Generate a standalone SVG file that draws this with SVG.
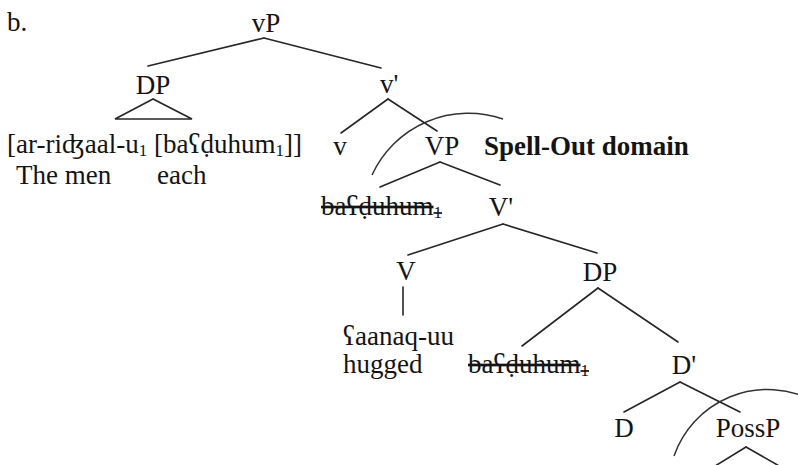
<svg xmlns="http://www.w3.org/2000/svg" width="798" height="465" viewBox="0 0 798 465">
  <style>
    text { font-family: "Liberation Serif", "DejaVu Serif", serif; font-size: 27px; fill: #141414; }
    .mid { text-anchor: middle; }
    .bold { font-weight: bold; }
    .struck { text-decoration: line-through; }
    .sub { font-size: 17px; }
    .edge { stroke: #262626; stroke-width: 1.6; fill: none; stroke-linecap: round; }
    .domain { stroke: #333; stroke-width: 1.5; fill: none; }
  </style>
  <rect width="798" height="465" fill="#ffffff"/>

  <!-- example label -->
  <text id="label-b" x="7" y="31">b.</text>

  <!-- tree branches -->
  <g id="connectors">
    <!-- vP -->
    <line class="edge" x1="264" y1="38" x2="148" y2="66"/>
    <line class="edge" x1="264" y1="38" x2="381" y2="68"/>
    <!-- DP triangle -->
    <polygon class="edge" points="153,99 115,119 192,119"/>
    <!-- v' -->
    <line class="edge" x1="388" y1="99" x2="341" y2="133"/>
    <line class="edge" x1="388" y1="99" x2="437" y2="131"/>
    <!-- VP -->
    <line class="edge" x1="440" y1="162" x2="380" y2="187"/>
    <line class="edge" x1="440" y1="162" x2="500" y2="185"/>
    <!-- V' -->
    <line class="edge" x1="503" y1="224" x2="408" y2="255"/>
    <line class="edge" x1="503" y1="224" x2="597" y2="253"/>
    <!-- V -->
    <line class="edge" x1="403" y1="287" x2="403" y2="315"/>
    <!-- DP (object) -->
    <line class="edge" x1="598" y1="288" x2="522" y2="346"/>
    <line class="edge" x1="598" y1="288" x2="678" y2="342"/>
    <!-- D' -->
    <line class="edge" x1="680" y1="382" x2="624" y2="412"/>
    <line class="edge" x1="680" y1="382" x2="740" y2="412"/>
    <!-- PossP -->
    <line class="edge" x1="746" y1="447" x2="707" y2="471"/>
    <line class="edge" x1="746" y1="447" x2="788" y2="471"/>
  </g>

  <!-- Spell-Out domain boundaries -->
  <g id="spellout-arcs">
    <path class="domain" d="M372,175 A106,106 0 0 1 503,119"/>
    <path class="domain" d="M674,456 A99,99 0 0 1 812,400"/>
  </g>

  <g id="node-vP"><text class="mid" x="266" y="32">vP</text></g>
  <g id="node-DP-subject">
    <text class="mid" x="153" y="94">DP</text>
    <text x="7" y="153">[ar-riʤaal-u<tspan class="sub" baseline-shift="-3">1</tspan> [baʕḍuhum<tspan class="sub" baseline-shift="-3">1</tspan>]]</text>
    <text x="16" y="184">The men</text>
    <text x="157" y="184">each</text>
  </g>
  <g id="node-v-bar"><text x="380" y="93">v'</text></g>
  <g id="node-v"><text class="mid" x="340" y="155">v</text></g>
  <g id="node-VP"><text class="mid" x="442" y="155">VP</text></g>
  <g id="spellout-label"><text class="bold" x="484" y="155">Spell-Out domain</text></g>
  <g id="node-copy-spec-VP"><text class="struck" x="321" y="215">baʕḍuhum<tspan class="sub" baseline-shift="-3">1</tspan></text></g>
  <g id="node-V-bar"><text class="mid" x="501" y="216">V'</text></g>
  <g id="node-V">
    <text class="mid" x="406" y="280">V</text>
    <text x="343" y="345">ʕaanaq-uu</text>
    <text x="343" y="373">hugged</text>
  </g>
  <g id="node-DP-object"><text class="mid" x="600" y="281">DP</text></g>
  <g id="node-copy-spec-DP"><text class="struck" x="468" y="373">baʕḍuhum<tspan class="sub" baseline-shift="-3">1</tspan></text></g>
  <g id="node-D-bar"><text class="mid" x="684" y="374">D'</text></g>
  <g id="node-D"><text class="mid" x="624" y="437">D</text></g>
  <g id="node-PossP"><text class="mid" x="748" y="437">PossP</text></g>
</svg>
